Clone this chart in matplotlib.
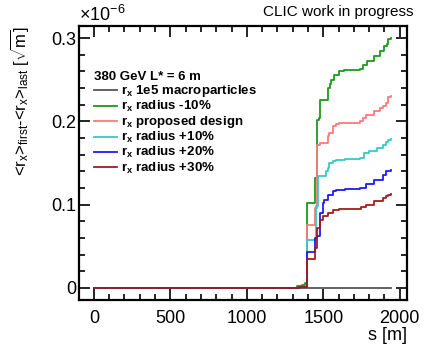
import matplotlib
matplotlib.use('Agg')
import matplotlib.pyplot as plt
from matplotlib.ticker import MultipleLocator, FuncFormatter

plt.rcParams['font.family'] = ['Liberation Sans', 'DejaVu Sans']
plt.rcParams['mathtext.fontset'] = 'custom'
plt.rcParams['mathtext.rm'] = 'Liberation Sans'
plt.rcParams['mathtext.it'] = 'Liberation Sans'
plt.rcParams['mathtext.bf'] = 'Liberation Sans:bold'

# values in units of 1e-6 sqrt(m), s in m
s_gray = [0, 1944]
v_gray = [0, 0]

s_green = [0, 1330, 1360, 1380, 1392, 1447, 1458, 1470, 1480, 1530, 1541, 1552, 1573, 1606,
           1637, 1737, 1760, 1784, 1830, 1870, 1900, 1915, 1922, 1944]
v_green = [0, 0.002, 0.004, 0.006, 0.102, 0.132, 0.202, 0.204, 0.226, 0.240, 0.245, 0.250, 0.256, 0.260,
           0.262, 0.263, 0.268, 0.272, 0.278, 0.285, 0.290, 0.293, 0.299, 0.300]

s_design = [0, 1340, 1392, 1447, 1462, 1480, 1530, 1540, 1562, 1584, 1606, 1737, 1760, 1780,
            1830, 1870, 1889, 1911, 1922, 1944]
v_design = [0, 0.001, 0.075, 0.096, 0.172, 0.174, 0.182, 0.186, 0.194, 0.197, 0.198, 0.200, 0.204, 0.208,
            0.212, 0.216, 0.218, 0.222, 0.229, 0.231]

s_p10 = [0, 1340, 1392, 1453, 1464, 1519, 1530, 1540, 1562, 1584, 1640, 1737, 1769, 1800,
         1850, 1889, 1911, 1922, 1944]
v_p10 = [0, 0.001, 0.057, 0.098, 0.134, 0.140, 0.144, 0.150, 0.152, 0.154, 0.155, 0.156, 0.162, 0.164,
         0.168, 0.172, 0.175, 0.178, 0.179]

s_p20 = [0, 1340, 1392, 1447, 1460, 1480, 1497, 1508, 1530, 1562, 1584, 1640, 1737, 1780,
         1830, 1889, 1911, 1922, 1944]
v_p20 = [0, 0.001, 0.043, 0.060, 0.062, 0.090, 0.102, 0.106, 0.112, 0.116, 0.118, 0.119, 0.120, 0.125,
         0.129, 0.135, 0.140, 0.140, 0.141]

s_p30 = [0, 1340, 1392, 1447, 1460, 1480, 1497, 1530, 1562, 1606, 1748, 1780, 1830, 1889,
         1911, 1922, 1944]
v_p30 = [0, 0.001, 0.035, 0.048, 0.072, 0.082, 0.086, 0.090, 0.093, 0.095, 0.097, 0.100, 0.104, 0.108,
         0.110, 0.112, 0.113]

series = [
    (s_gray, v_gray, '#555555', r'r$_\mathbf{x}$ 1e5 macroparticles'),
    (s_green, v_green, '#1a9a1a', r'r$_\mathbf{x}$ radius -10%'),
    (s_design, v_design, '#ff7a7a', r'r$_\mathbf{x}$ proposed design'),
    (s_p10, v_p10, '#36c8c8', r'r$_\mathbf{x}$ radius +10%'),
    (s_p20, v_p20, '#1a1aff', r'r$_\mathbf{x}$ radius +20%'),
    (s_p30, v_p30, '#a01c1c', r'r$_\mathbf{x}$ radius +30%'),
]

fig = plt.figure(figsize=(4.24, 3.46), dpi=100)
ax = fig.add_axes([0.1863, 0.1329, 0.7736, 0.7920])

for s, v, c, lab in series:
    ax.plot(s, v, color=c, lw=1.3, drawstyle='steps-post', label=lab)

ax.set_xlim(-97.5, 2047.5)
ax.set_ylim(-0.0145, 0.3145)

ax.xaxis.set_major_locator(MultipleLocator(500))
ax.xaxis.set_minor_locator(MultipleLocator(100))
ax.yaxis.set_major_locator(MultipleLocator(0.1))
ax.yaxis.set_minor_locator(MultipleLocator(0.02))
ax.yaxis.set_major_formatter(FuncFormatter(lambda y, p: '%g' % round(y, 3)))

ax.tick_params(which='both', direction='in', top=True, right=True, width=1.2)
ax.tick_params(which='major', length=8)
ax.tick_params(which='minor', length=4)
ax.tick_params(axis='x', labelsize=13, pad=7)
ax.tick_params(axis='y', labelsize=13, pad=2)
for sp in ax.spines.values():
    sp.set_linewidth(1.6)

ax.set_xlabel('s [m]', fontsize=13, loc='right', labelpad=0)
ax.set_ylabel(r'<r$_\mathrm{x}$>$_\mathrm{first}$-<r$_\mathrm{x}$>$_\mathrm{last}$ [$\sqrt{\mathrm{m}}$]',
              fontsize=12, loc='top')
ax.yaxis.set_label_coords(-0.145, 1.0)

ax.text(0.0, 1.005, r'$\times$10$^{-6}$', transform=ax.transAxes, fontsize=13,
        ha='left', va='bottom')
fig.text(0.976, 0.945, 'CLIC work in progress', fontsize=11, ha='right', va='bottom')

leg = ax.legend(loc='upper left', bbox_to_anchor=(0.045, 0.835), frameon=False,
                title='380 GeV L* = 6 m', alignment='left',
                prop={'weight': 'bold', 'size': 9.5}, handlelength=1.75, handletextpad=0.3,
                labelspacing=0.0, borderpad=0, borderaxespad=0)
leg.get_title().set_fontweight('bold')
leg.get_title().set_fontsize(9.5)

fig.savefig('out.png', dpi=100)
